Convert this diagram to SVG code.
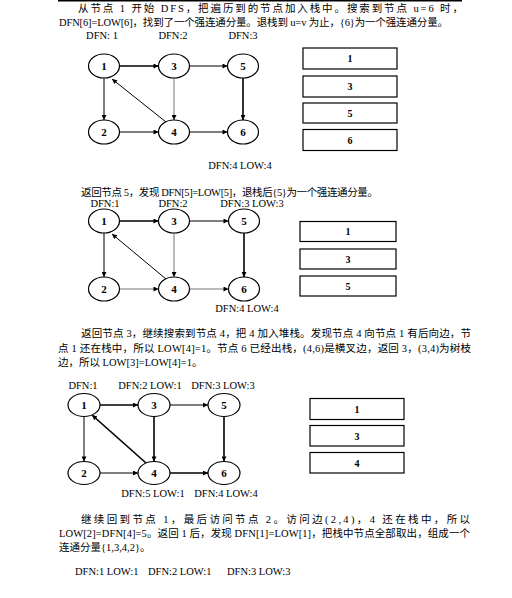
<svg xmlns="http://www.w3.org/2000/svg" width="512" height="598" viewBox="0 0 512 598">
<defs>
<marker id="ah" viewBox="0 0 10 10" refX="10" refY="5" markerWidth="6" markerHeight="5" markerUnits="userSpaceOnUse" orient="auto">
<path d="M0,0 L10,5 L0,10 z" fill="#000"/>
</marker>
<style>
text{font-family:"Liberation Serif","Noto Sans CJK SC",serif;fill:#000}
.p{font-size:10.5px}
.l{font-size:10.5px;text-anchor:middle}
.n{font-size:11px;font-weight:bold;text-anchor:middle}
.b{font-size:10px;font-weight:bold;text-anchor:middle}
ellipse{fill:#fff;stroke:#000;stroke-width:1.2}
rect.box{fill:#fff;stroke:#000;stroke-width:1.2}
.e{stroke:#000;stroke-width:1;fill:none;marker-end:url(#ah)}
.t{stroke-width:1.6}
.g{stroke:#777}
</style>
</defs>
<rect x="58" y="0" width="404" height="1.5" fill="#000"/>

<!-- paragraph 1 -->
<text class="p" x="78" y="12" textLength="385" lengthAdjust="spacing">从节点 1 开始 DFS，把遍历到的节点加入栈中。搜索到节点 u=6 时，</text>
<text class="p" x="59" y="26" textLength="389" lengthAdjust="spacing">DFN[6]=LOW[6]，找到了一个强连通分量。退栈到 u=v 为止，{6}为一个强连通分量。</text>

<!-- graph 1 -->
<g id="g1-connectors">
<line class="e t" x1="119.5" y1="66" x2="158.5" y2="66"/>
<line class="e" x1="189.5" y1="66" x2="227.5" y2="66"/>
<line class="e" x1="104" y1="78" x2="104" y2="120"/>
<line class="e" x1="119.5" y1="132" x2="158.5" y2="132"/>
<line class="e g" x1="174" y1="78" x2="174" y2="120"/>
<line class="e" x1="189.5" y1="132" x2="227.5" y2="132"/>
<line class="e t" x1="243" y1="78" x2="243" y2="120"/>
<line class="e" x1="166" y1="122" x2="112" y2="79"/>
</g>
<g id="g1-n1"><ellipse cx="104" cy="66" rx="15.5" ry="12"/><text class="n" x="104" y="70">1</text></g>
<g id="g1-n3"><ellipse cx="174" cy="66" rx="15.5" ry="12"/><text class="n" x="174" y="70">3</text></g>
<g id="g1-n5"><ellipse cx="243" cy="66" rx="15.5" ry="12"/><text class="n" x="243" y="70">5</text></g>
<g id="g1-n2"><ellipse cx="104" cy="132" rx="15.5" ry="12"/><text class="n" x="104" y="136">2</text></g>
<g id="g1-n4"><ellipse cx="174" cy="132" rx="15.5" ry="12"/><text class="n" x="174" y="136">4</text></g>
<g id="g1-n6"><ellipse cx="243" cy="132" rx="15.5" ry="12"/><text class="n" x="243" y="136">6</text></g>
<g id="g1-labels">
<text class="l" x="102" y="38.5">DFN: 1</text>
<text class="l" x="173" y="38.5">DFN:2</text>
<text class="l" x="243" y="38.5">DFN:3</text>
<text class="l" x="240" y="169">DFN:4 LOW:4</text>
</g>
<g id="g1-stack">
<rect class="box" x="303" y="48" width="94" height="21"/><text class="b" x="350" y="62">1</text>
<rect class="box" x="303" y="76" width="94" height="21"/><text class="b" x="350" y="90">3</text>
<rect class="box" x="303" y="103" width="94" height="20"/><text class="b" x="350" y="117">5</text>
<rect class="box" x="303" y="129.5" width="94" height="21"/><text class="b" x="350" y="143.5">6</text>
</g>

<!-- paragraph 2 -->
<text class="p" x="81" y="195.5" textLength="297" lengthAdjust="spacing">返回节点 5，发现 DFN[5]=LOW[5]，退栈后{5}为一个强连通分量。</text>

<!-- graph 2 -->
<g id="g2-connectors">
<line class="e t" x1="119.5" y1="221" x2="158.5" y2="221"/>
<line class="e" x1="189.5" y1="221" x2="228.5" y2="221"/>
<line class="e" x1="104" y1="233" x2="104" y2="277"/>
<line class="e g" x1="119.5" y1="289" x2="158.5" y2="289"/>
<line class="e g" x1="174" y1="233" x2="174" y2="277"/>
<line class="e g" x1="189.5" y1="289" x2="228.5" y2="289"/>
<line class="e t" x1="244" y1="233" x2="244" y2="277"/>
<line class="e" x1="166" y1="279" x2="112" y2="234"/>
</g>
<g id="g2-n1"><ellipse cx="104" cy="221" rx="15.5" ry="12"/><text class="n" x="104" y="225">1</text></g>
<g id="g2-n3"><ellipse cx="174" cy="221" rx="15.5" ry="12"/><text class="n" x="174" y="225">3</text></g>
<g id="g2-n5"><ellipse cx="244" cy="221" rx="15.5" ry="12"/><text class="n" x="244" y="225">5</text></g>
<g id="g2-n2"><ellipse cx="104" cy="289" rx="15.5" ry="12"/><text class="n" x="104" y="293">2</text></g>
<g id="g2-n4"><ellipse cx="174" cy="289" rx="15.5" ry="12"/><text class="n" x="174" y="293">4</text></g>
<g id="g2-n6"><ellipse cx="244" cy="289" rx="15.5" ry="12"/><text class="n" x="244" y="293">6</text></g>
<g id="g2-labels">
<text class="l" x="105" y="207">DFN:1</text>
<text class="l" x="173" y="207">DFN:2</text>
<text class="l" x="252" y="207">DFN:3 LOW:3</text>
<text class="l" x="247" y="311.5">DFN:4 LOW:4</text>
</g>
<g id="g2-stack">
<rect class="box" x="300" y="221.5" width="96" height="20"/><text class="b" x="348" y="235">1</text>
<rect class="box" x="300" y="249" width="96" height="20"/><text class="b" x="348" y="262.5">3</text>
<rect class="box" x="300" y="276" width="96" height="20"/><text class="b" x="348" y="289.5">5</text>
</g>

<!-- paragraph 3 -->
<text class="p" x="81" y="337" textLength="390" lengthAdjust="spacing">返回节点 3，继续搜索到节点 4，把 4 加入堆栈。发现节点 4 向节点 1 有后向边，节</text>
<text class="p" x="58" y="351.5" textLength="413" lengthAdjust="spacing">点 1 还在栈中，所以 LOW[4]=1。节点 6 已经出栈，(4,6)是横叉边，返回 3，(3,4)为树枝</text>
<text class="p" x="58" y="365.5">边，所以 LOW[3]=LOW[4]=1。</text>

<!-- graph 3 -->
<g id="g3-connectors">
<line class="e t" x1="100" y1="405" x2="138" y2="405"/>
<line class="e" x1="170" y1="405" x2="208" y2="405"/>
<line class="e" x1="84" y1="416.5" x2="84" y2="461.5"/>
<line class="e" x1="100" y1="473" x2="138" y2="473"/>
<line class="e t" x1="154" y1="416.5" x2="154" y2="461.5"/>
<line class="e t" x1="170" y1="473" x2="208" y2="473"/>
<line class="e t" x1="224" y1="416.5" x2="224" y2="461.5"/>
<line class="e t" x1="146" y1="463" x2="92" y2="415"/>
</g>
<g id="g3-n1"><ellipse cx="84" cy="405" rx="16" ry="11.5"/><text class="n" x="84" y="409">1</text></g>
<g id="g3-n3"><ellipse cx="154" cy="405" rx="16" ry="11.5"/><text class="n" x="154" y="409">3</text></g>
<g id="g3-n5"><ellipse cx="224" cy="405" rx="16" ry="11.5"/><text class="n" x="224" y="409">5</text></g>
<g id="g3-n2"><ellipse cx="84" cy="473" rx="16" ry="11.5"/><text class="n" x="84" y="477">2</text></g>
<g id="g3-n4"><ellipse cx="154" cy="473" rx="16" ry="11.5"/><text class="n" x="154" y="477">4</text></g>
<g id="g3-n6"><ellipse cx="224" cy="473" rx="16" ry="11.5"/><text class="n" x="224" y="477">6</text></g>
<g id="g3-labels">
<text class="l" x="83" y="389">DFN:1</text>
<text class="l" x="150" y="389">DFN:2 LOW:1</text>
<text class="l" x="223" y="389">DFN:3 LOW:3</text>
<text class="l" x="153" y="497">DFN:5 LOW:1</text>
<text class="l" x="226" y="497">DFN:4 LOW:4</text>
</g>
<g id="g3-stack">
<rect class="box" x="310" y="398.5" width="94" height="21"/><text class="b" x="357" y="412.5">1</text>
<rect class="box" x="310" y="425.5" width="94" height="20.5"/><text class="b" x="357" y="439.5">3</text>
<rect class="box" x="310" y="452.5" width="94" height="20.5"/><text class="b" x="357" y="466.5">4</text>
</g>

<!-- paragraph 4 -->
<text class="p" x="81" y="523" textLength="389" lengthAdjust="spacing">继续回到节点 1，最后访问节点 2。访问边(2,4)，4 还在栈中，所以</text>
<text class="p" x="59" y="536.5" textLength="411" lengthAdjust="spacing">LOW[2]=DFN[4]=5。返回 1 后，发现 DFN[1]=LOW[1]，把栈中节点全部取出，组成一个</text>
<text class="p" x="59" y="550.5">连通分量{1,3,4,2}。</text>

<text class="p" x="75" y="575">DFN:1 LOW:1</text>
<text class="p" x="148" y="575">DFN:2 LOW:1</text>
<text class="p" x="227" y="575">DFN:3 LOW:3</text>
</svg>
